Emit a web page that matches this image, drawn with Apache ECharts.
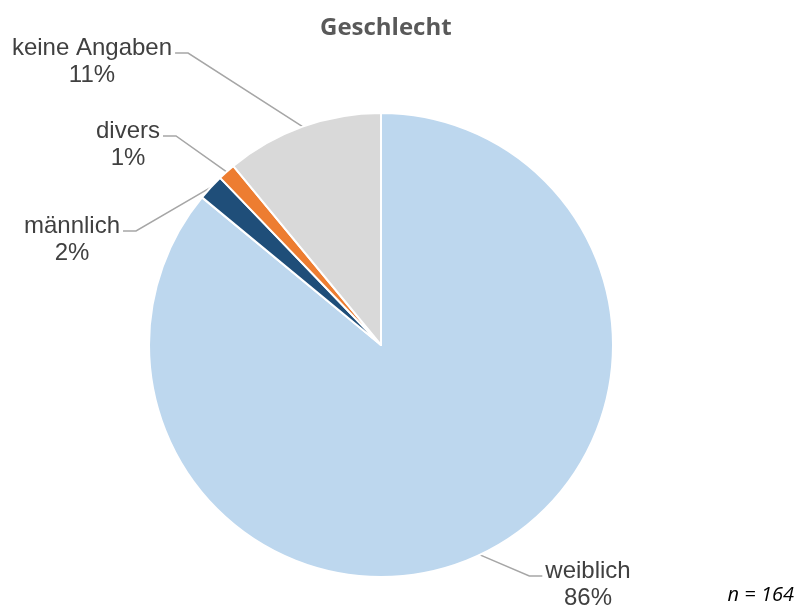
<!DOCTYPE html>
<html>
<head>
<meta charset="utf-8">
<script src="https://cdn.jsdelivr.net/npm/echarts@6/dist/echarts.min.js"></script>
<style>
html,body{margin:0;padding:0;background:#fff;}
#chart{width:802px;height:606px;}
</style>
</head>
<body>
<div id="chart"></div>
<script>
const titleText = 'Geschlecht';
const noteText = 'n = 164';
const categories = ['weiblich', 'männlich', 'divers', 'keine Angaben'];
const counts = [141, 3, 2, 18];
const colors = ['#BDD7EE', '#1F4E79', '#ED7D31', '#D9D9D9'];

// label placement (center x, top y, side) per slice
const labelPlace = [
  {cx: 588, top: 558, side: 'right'},
  {cx: 72, top: 213, side: 'left'},
  {cx: 128, top: 118, side: 'left'},
  {cx: 92, top: 35, side: 'left'}
];

const chart = echarts.init(document.getElementById('chart'));
chart.setOption({
  animation: false,
  title: [
    {text: titleText, left: 315, top: 11,
     textStyle: {fontFamily: 'Open Sans', fontSize: 24, fontWeight: 'bold', color: '#595959'}},
    {text: noteText, right: 3, top: 580,
     textStyle: {fontFamily: 'Open Sans', fontSize: 20, fontStyle: 'italic', fontWeight: 'normal', color: '#000'}}
  ],
  series: [{
    type: 'pie',
    center: [381, 345],
    radius: 232,
    startAngle: 90,
    clockwise: true,
    percentPrecision: 0,
    data: categories.map((c, i) => ({name: c, value: counts[i], itemStyle: {color: colors[i]}})),
    itemStyle: {borderColor: '#fff', borderWidth: 2},
    label: {
      show: true, position: 'outside',
      formatter: '{b}\n{d}%',
      fontFamily: 'Liberation Sans', fontSize: 24, lineHeight: 27,
      color: '#404040', align: 'center'
    },
    labelLine: {show: true, lineStyle: {color: '#A6A6A6', width: 1.5}},
    emphasis: {disabled: true},
    labelLayout: function (params) {
      const pl = labelPlace[params.dataIndex];
      const w = params.labelRect.width;
      const p0 = params.labelLinePoints[0];
      const ly = pl.top + 18;
      let endX, turnX;
      if (pl.side === 'left') {
        endX = pl.cx + w / 2 + 3; turnX = endX + 13;
      } else {
        endX = pl.cx - w / 2 - 3; turnX = endX - 13;
      }
      return {
        x: pl.cx, y: pl.top, align: 'center', verticalAlign: 'top',
        labelLinePoints: [p0, [turnX, ly], [endX, ly]]
      };
    }
  }]
});
</script>
</body>
</html>
